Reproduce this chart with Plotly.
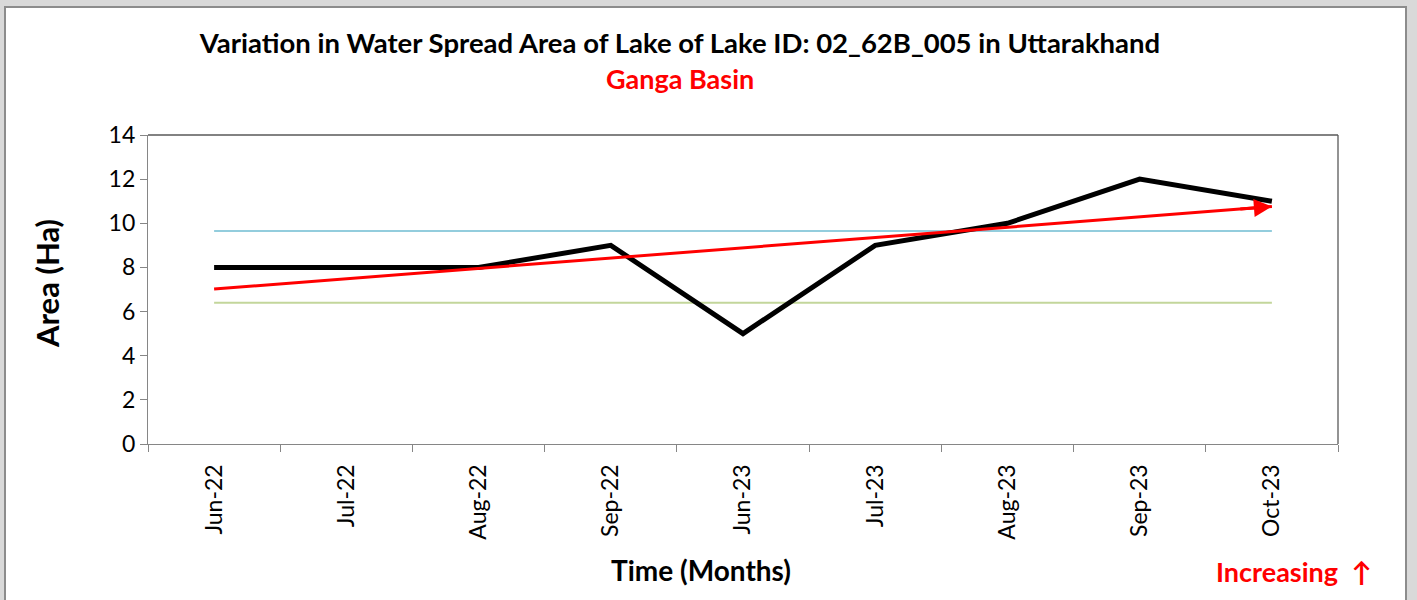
import numpy as np
import plotly.graph_objects as go

# Monthly water spread area of the lake (hectares)
months = ["Jun-22", "Jul-22", "Aug-22", "Sep-22", "Jun-23", "Jul-23", "Aug-23", "Sep-23", "Oct-23"]
area_ha = [8, 8, 8, 9, 5, 9, 10, 12, 11]
upper_ref = [9.65] * len(months)   # upper reference level
lower_ref = [6.4] * len(months)    # lower reference level

W, H = 1417, 600
L, R, T, B = 148, 1338, 135, 444  # plot area in pixels

def px(x):
    return (x - L) / (R - L)

def py(y):
    return (B - y) / (B - T)

# Linear trend through the monthly values
idx = np.arange(len(area_ha))
slope, intercept = np.polyfit(idx, area_ha, 1)
trend = intercept + slope * idx

FONT = "Lato"

fig = go.Figure()
fig.add_trace(go.Scatter(x=months, y=upper_ref, mode="lines",
                         line=dict(color="#93cddd", width=2), hoverinfo="skip"))
fig.add_trace(go.Scatter(x=months, y=lower_ref, mode="lines",
                         line=dict(color="#c3d69b", width=2), hoverinfo="skip"))
fig.add_trace(go.Scatter(x=months, y=area_ha, mode="lines",
                         line=dict(color="black", width=5)))
fig.add_trace(go.Scatter(x=months, y=trend, mode="lines",
                         line=dict(color="#ff0000", width=3), hoverinfo="skip"))

shapes = [
    # chart frame
    dict(type="rect", xref="paper", yref="paper", layer="below",
         x0=px(5), x1=px(1406), y0=py(640), y1=py(7),
         fillcolor="white", line=dict(color="#8c8c8c", width=2)),
    # top and right edges of the plot area
    dict(type="line", xref="paper", yref="paper", x0=0, x1=1, y0=1, y1=1,
         line=dict(color="#595959", width=1.3)),
    dict(type="line", xref="paper", yref="paper", x0=1, x1=1, y0=0, y1=1,
         line=dict(color="#595959", width=1.3)),
]

def label(text, x, y, size, color="black", angle=0):
    return dict(text=text, x=px(x), y=py(y), xref="paper", yref="paper",
                xanchor="center", yanchor="middle", showarrow=False, textangle=angle,
                font=dict(family=FONT, size=size, color=color))

annotations = [
    label("<b>Ganga Basin</b>", 680, 78, 27, "#ff0000"),
    label("<b>Time (Months)</b>", 701, 570, 28),
    label("<b>Area (Ha)</b>", 47, 284, 31, angle=-90),
    label("<b>Increasing  ↑</b>", 1293, 571, 27, "#ff0000"),
    # arrowhead at the end of the trend line
    dict(x=len(months) - 1, y=trend[-1], xref="x", yref="y",
         ax=len(months) - 1.25, ay=trend[-1] - slope * 0.25,
         axref="x", ayref="y", text="", showarrow=True,
         arrowhead=2, arrowsize=1.2, arrowwidth=3, arrowcolor="#ff0000"),
]

fig.update_layout(
    width=W, height=H,
    margin=dict(l=L, r=W - R, t=T, b=H - B, pad=0),
    paper_bgcolor="#d9d9d9", plot_bgcolor="white",
    showlegend=False,
    title=dict(text="<b>Variation in Water Spread Area of Lake of Lake ID: 02_62B_005 in Uttarakhand</b>",
               x=680 / W, y=1 - 43 / H, xref="container", yref="container",
               xanchor="center", yanchor="middle",
               font=dict(family=FONT, size=27.5, color="black")),
    shapes=shapes, annotations=annotations,
    font=dict(family=FONT, color="black"),
)
fig.update_xaxes(type="category", categoryorder="array", categoryarray=months,
                 range=[-0.5, len(months) - 0.5],
                 showgrid=False, zeroline=False, showline=True, linecolor="#868686", linewidth=1.3,
                 ticks="outside", tickson="boundaries", ticklen=7, tickcolor="#868686",
                 ticklabelstandoff=10,
                 tickangle=-90, tickfont=dict(family=FONT, size=23, color="black"))
fig.update_yaxes(range=[0, 14], dtick=2, showgrid=False, zeroline=False,
                 showline=True, linecolor="#868686", linewidth=1.3,
                 ticks="outside", ticklen=7, tickcolor="#868686",
                 tickfont=dict(family=FONT, size=23, color="black"))

fig.write_html("out.html")
